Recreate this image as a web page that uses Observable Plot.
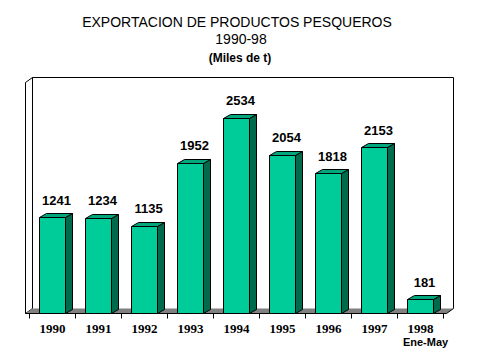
<!DOCTYPE html>
<html>
<head>
<meta charset="utf-8">
<script src="https://cdn.jsdelivr.net/npm/d3@7"></script>
<script src="https://cdn.jsdelivr.net/npm/@observablehq/plot@0.6"></script>
<style>
  html, body { margin: 0; padding: 0; background: #fff; }
  svg { display: block; }
  g[aria-label="value-labels"] text { letter-spacing: -1px; }
  g[aria-label="year-labels"] text { letter-spacing: -1px; }
  g[aria-label="sub-year-label"] text { letter-spacing: -0.8px; }
  g[aria-label="title-3"] text { letter-spacing: -0.3px; }
</style>
</head>
<body>
<div id="chart"></div>
<script>
// ---- data ----
const years = ["1990", "1991", "1992", "1993", "1994", "1995", "1996", "1997", "1998"];
const values = [1241, 1234, 1135, 1952, 2534, 2054, 1818, 2153, 181];
const subLabel = "Ene-May";
const titleLine1 = "EXPORTACION DE PRODUCTOS PESQUEROS";
const titleLine2 = "1990-98";
const titleLine3 = "(Miles de t)";
const yMax = 3000;

const data = years.map((year, i) => ({year, value: values[i]}));

// colours
const FRONT = "#00cc99";
const SIDE = "#006a4c";
const TOP = "#00a67c";
const FLOOR = "#808080";

// 3D box + bars drawn through Plot's scales
function chart3d(index, scales, vals, dims) {
  const x = scales.x, y = scales.y;
  const x0 = dims.marginLeft, x1 = dims.width - dims.marginRight;
  const bw = typeof x.bandwidth === "function" ? x.bandwidth() : (x1 - x0) / years.length;
  const y0 = y(0), yT = y(yMax);
  const WDX = 7, WDY = -5;   // wall depth
  const BDX = 7, BDY = -4;   // bar depth
  const inset = bw * 0.215;
  const r = v => Math.round(v) + 0.5;
  const g = d3.create("svg:g");
  const poly = pts => "M" + pts.map(p => p.join(",")).join("L") + "Z";

  // back wall
  g.append("path")
    .attr("d", poly([[r(x0 + WDX), r(y0 + WDY)], [r(x0 + WDX), r(yT + WDY)], [r(x1 + WDX), r(yT + WDY)], [r(x1 + WDX), r(y0 + WDY)]]))
    .attr("fill", "#fff").attr("stroke", "none");
  g.append("path")
    .attr("d", `M${r(x0 + WDX)},${r(y0 + WDY)}V${r(yT + WDY)}H${r(x1 + WDX)}V${r(y0 + WDY)}`)
    .attr("fill", "none").attr("stroke", "#000");
  // left side wall
  g.append("path")
    .attr("d", poly([[r(x0), r(y0)], [r(x0), r(yT)], [r(x0 + WDX), r(yT + WDY)], [r(x0 + WDX), r(y0 + WDY)]]))
    .attr("fill", "#fff").attr("stroke", "#000");
  // floor
  g.append("path")
    .attr("d", poly([[r(x0), r(y0)], [r(x1), r(y0)], [r(x1 + WDX), r(y0 + WDY)], [r(x0 + WDX), r(y0 + WDY)]]))
    .attr("fill", FLOOR).attr("stroke", "none");
  g.append("path")
    .attr("d", `M${r(x0)},${r(y0)}H${r(x1)}L${r(x1 + WDX)},${r(y0 + WDY)}`)
    .attr("fill", "none").attr("stroke", "#000");
  // ticks at band boundaries
  for (let i = 0; i <= years.length; i++) {
    const xt = i < years.length ? x(years[i]) : x(years[years.length - 1]) + bw;
    g.append("path").attr("d", `M${r(xt)},${r(y0)}V${r(y0) + 5}`).attr("stroke", "#000");
  }
  // bars
  for (const d of data) {
    const xl = r(x(d.year) + inset), xr = r(x(d.year) + bw - inset);
    const yt = r(y(d.value)), yb = r(y0);
    const attrs = sel => sel.attr("stroke", "#000").attr("stroke-width", 1).attr("stroke-linejoin", "round");
    attrs(g.append("path").attr("d", poly([[xr, yb], [xr + BDX, yb + BDY], [xr + BDX, yt + BDY], [xr, yt]])).attr("fill", SIDE));
    attrs(g.append("path").attr("d", poly([[xl, yt], [xr, yt], [xr + BDX, yt + BDY], [xl + BDX, yt + BDY]])).attr("fill", TOP));
    attrs(g.append("path").attr("d", poly([[xl, yb], [xl, yt], [xr, yt], [xr, yb]])).attr("fill", FRONT));
  }
  return g.node();
}

const sans = "'Liberation Sans', Arial, sans-serif";
const serif = "'Liberation Serif', 'Times New Roman', serif";

const plot = Plot.plot({
  width: 477,
  height: 357,
  marginLeft: 25,
  marginRight: 31,
  marginTop: 82,
  marginBottom: 44,
  style: {background: "#fff", overflow: "visible"},
  x: {type: "band", domain: years, padding: 0, axis: null},
  y: {domain: [0, yMax], axis: null},
  marks: [
    chart3d,
    Plot.text(data, {
      x: "year", y: "value", text: d => String(d.value),
      dx: 4, dy: -13, lineAnchor: "bottom",
      fontFamily: sans, fontWeight: "bold", fontSize: 13, fill: "#000",
      ariaLabel: "value-labels"
    }),
    Plot.text(years, {
      x: d => d, frameAnchor: "bottom", dy: 15, lineAnchor: "middle",
      fontFamily: serif, fontWeight: "bold", fontSize: 13, fill: "#000",
      ariaLabel: "year-labels"
    }),
    Plot.text([subLabel], {
      x: () => years[years.length - 1], frameAnchor: "bottom", dx: 5, dy: 29, lineAnchor: "middle",
      fontFamily: sans, fontWeight: "bold", fontSize: 11, fill: "#000",
      ariaLabel: "sub-year-label"
    }),
    Plot.text([titleLine1], {
      frameAnchor: "top", dx: 1, dy: -60, lineAnchor: "middle",
      fontFamily: sans, fontSize: 14, fill: "#000", ariaLabel: "title-1"
    }),
    Plot.text([titleLine2], {
      frameAnchor: "top", dx: 5, dy: -43, lineAnchor: "middle",
      fontFamily: sans, fontSize: 14, fill: "#000", ariaLabel: "title-2"
    }),
    Plot.text([titleLine3], {
      frameAnchor: "top", dx: 4, dy: -24, lineAnchor: "middle",
      fontFamily: sans, fontWeight: "bold", fontSize: 12, fill: "#000", ariaLabel: "title-3"
    })
  ]
});
document.getElementById("chart").appendChild(plot);
</script>
</body>
</html>
